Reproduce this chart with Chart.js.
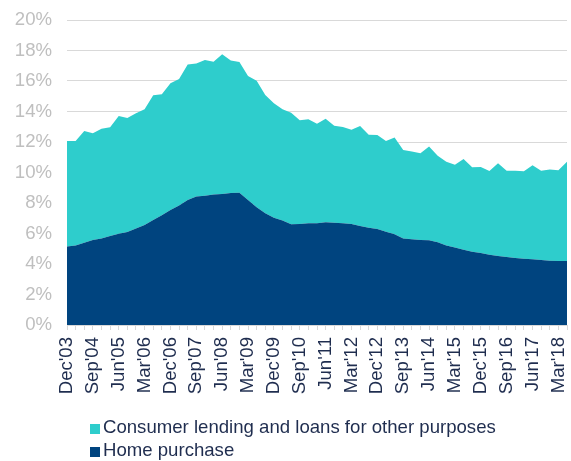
<!DOCTYPE html>
<html>
<head>
<meta charset="utf-8">
<script src="https://cdn.jsdelivr.net/npm/chart.js@4/dist/chart.umd.min.js"></script>
<style>
    body { margin: 0; background: #ffffff; }
    #wrap { position: relative; width: 571px; height: 461px; font-family: 'Liberation Sans', Arial, sans-serif; }
    #legend { position: absolute; left: 90px; top: 415px; font-size: 18.6px; color: #1f2d4f; }
    .item { height: 23px; line-height: 23px; white-space: nowrap; }
    .box { display: inline-block; width: 10px; height: 10px; margin-right: 3px; vertical-align: -1px; }
</style>
</head>
<body>
<div id="wrap">
    <canvas id="lendingChart" width="571" height="461"></canvas>
    <div id="legend">
        <div class="item"><span class="box" style="background:#2ecdcc"></span>Consumer lending and loans for other purposes</div>
        <div class="item"><span class="box" style="background:#00447f"></span>Home purchase</div>
    </div>
</div>
<script>
// quarters shown on the x axis (a label every third quarter)
const quarters = ["Dec'03","Mar'04","Jun'04","Sep'04","Dec'04","Mar'05","Jun'05","Sep'05","Dec'05",
    "Mar'06","Jun'06","Sep'06","Dec'06","Mar'07","Jun'07","Sep'07","Dec'07","Mar'08","Jun'08","Sep'08",
    "Dec'08","Mar'09","Jun'09","Sep'09","Dec'09","Mar'10","Jun'10","Sep'10","Dec'10","Mar'11","Jun'11",
    "Sep'11","Dec'11","Mar'12","Jun'12","Sep'12","Dec'12","Mar'13","Jun'13","Sep'13","Dec'13","Mar'14",
    "Jun'14","Sep'14","Dec'14","Mar'15","Jun'15","Sep'15","Dec'15","Mar'16","Jun'16","Sep'16","Dec'16",
    "Mar'17","Jun'17","Sep'17","Dec'17","Mar'18","Jun'18"];

// home purchase, % (bottom layer)
const homePurchase = [5.14,5.22,5.40,5.57,5.68,5.83,5.99,6.10,6.32,6.56,6.89,7.19,7.54,7.83,8.20,8.42,
    8.48,8.55,8.59,8.66,8.68,8.20,7.72,7.32,7.04,6.86,6.60,6.62,6.67,6.67,6.73,6.71,6.67,6.62,6.49,6.38,
    6.30,6.12,5.95,5.68,5.62,5.57,5.55,5.42,5.22,5.09,4.94,4.81,4.72,4.61,4.52,4.46,4.39,4.35,4.31,4.26,
    4.22,4.20,4.20];

// consumer lending and loans for other purposes, % (stacked on top)
const consumerLending = [6.93,6.85,7.32,7.00,7.19,7.13,7.71,7.47,7.56,7.58,8.17,7.94,8.31,8.30,8.89,8.72,
    8.90,8.72,9.17,8.68,8.57,8.13,8.30,7.76,7.50,7.28,7.32,6.80,6.83,6.53,6.80,6.36,6.31,6.19,6.56,6.10,
    6.16,5.95,6.35,5.80,5.75,5.69,6.15,5.68,5.49,5.42,5.95,5.53,5.64,5.49,6.08,5.66,5.73,5.73,6.16,5.86,
    5.97,5.94,6.51];

// y axis ticks
const yTicks = [0, 2, 4, 6, 8, 10, 12, 14, 16, 18, 20];

const FONT = "'Liberation Sans', Arial, sans-serif";

document.addEventListener('DOMContentLoaded', function() {
    renderLendingChart(document.getElementById('lendingChart'));
});

function areaSet(label, data, color, fill) {
    return {
        label: label,
        data: data,
        backgroundColor: color,
        borderColor: color,
        borderWidth: 0,
        pointRadius: 0,
        tension: 0,
        fill: fill
    };
}

// drop the extra room Chart.js keeps for edge labels
function noEdgePadding(scale) {
    scale.paddingLeft = 0;
    scale.paddingRight = 0;
    scale.paddingTop = 0;
    scale.paddingBottom = 0;
}

function renderLendingChart(canvas) {
    new Chart(canvas, {
        type: 'line',
        data: {
            labels: quarters,
            datasets: [
                areaSet('Home purchase', homePurchase, '#00447f', 'origin'),
                areaSet('Consumer lending and loans for other purposes', consumerLending, '#2ecdcc', '-1')
            ]
        },
        options: {
            responsive: false,
            animation: false,
            layout: { padding: { top: 20, right: 4, left: 0, bottom: 0 } },
            plugins: {
                legend: { display: false },
                tooltip: { enabled: false }
            },
            scales: {
                x: {
                    offset: false,
                    grid: {
                        offset: false,
                        drawOnChartArea: false,
                        drawTicks: true,
                        tickLength: 5,
                        color: '#d9d9d9'
                    },
                    border: { color: '#d9d9d9' },
                    ticks: {
                        autoSkip: false,
                        minRotation: 90,
                        maxRotation: 90,
                        padding: 7,
                        color: '#1f2d4f',
                        font: { family: FONT, size: 18.6 },
                        callback: function(value, index) {
                            return index % 3 === 0 ? quarters[index] : '';
                        }
                    },
                    afterFit: function(scale) {
                        scale.height = 136;
                        noEdgePadding(scale);
                    }
                },
                y: {
                    stacked: true,
                    min: 0,
                    max: 20,
                    afterBuildTicks: function(scale) {
                        scale.ticks = yTicks.map(v => ({ value: v }));
                    },
                    grid: { color: '#d9d9d9', drawTicks: false },
                    border: { display: false },
                    ticks: {
                        padding: 15,
                        color: '#bfbfbf',
                        font: { family: FONT, size: 18.6 },
                        callback: function(value) { return value + '%'; }
                    },
                    afterFit: function(scale) {
                        scale.width = 67;
                        noEdgePadding(scale);
                    }
                }
            }
        }
    });
}
</script>
</body>
</html>
